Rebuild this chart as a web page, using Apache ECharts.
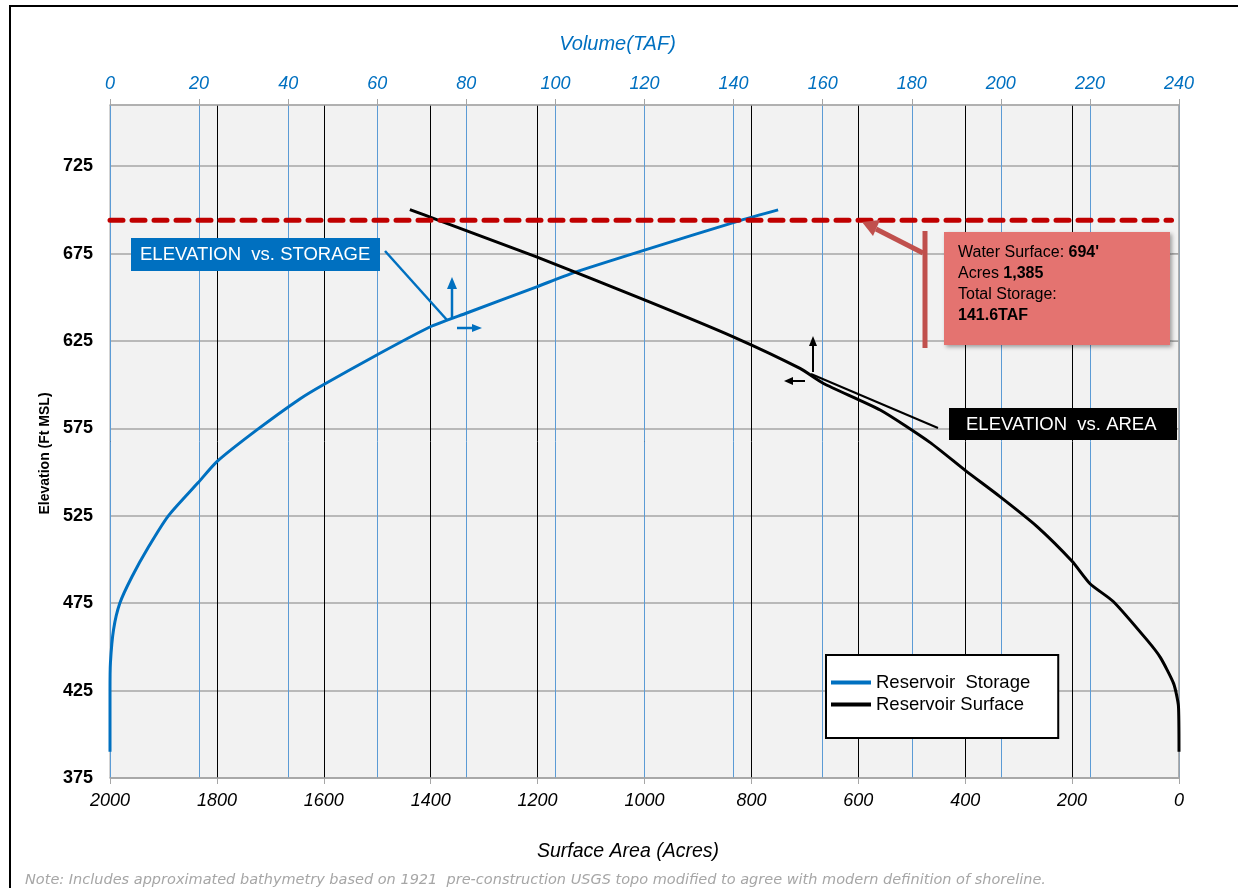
<!DOCTYPE html>
<html>
<head>
<meta charset="utf-8">
<script src="https://cdn.jsdelivr.net/npm/echarts@6/dist/echarts.min.js"></script>
<style>
  html, body { margin: 0; padding: 0; background: #fff; }
  #chart { width: 1238px; height: 888px; }
</style>
</head>
<body>
<div id="chart"></div>
<script>
// elevation vs storage: [volume TAF, elevation ft]
var storageData = [
    [0, 390], [0, 425], [0.1, 441], [0.8, 460], [2.2, 475], [4.9, 490], [8.6, 507],
    [13.1, 525], [19.8, 544], [24, 556], [32.9, 574], [42.7, 592], [47.9, 600],
    [59.9, 617], [71.8, 633], [80.1, 641], [95.8, 656], [104, 664], [120, 677],
    [141.6, 694], [150, 700]
];
// elevation vs surface area: [acres, elevation ft]
var surfaceData = [
    [0, 390], [1, 416], [10, 429], [35, 444], [60, 454], [123, 476], [166, 486],
    [200, 499], [266, 519], [335, 536], [400, 551], [466, 567], [559, 585.5],
    [665, 600.7], [709, 609.3], [834, 627.4], [999, 648.4], [1202, 673.1],
    [1385, 694], [1439, 700.2]
];
var waterSurface = 694;
var elevLabels = [375, 425, 475, 525, 575, 625, 675, 725];

var font = 'Liberation Sans, Arial, sans-serif';
var blue = '#0070c0';

var myChart = echarts.init(document.getElementById('chart'));

var option = {
    backgroundColor: '#fff',
    animation: false,
    grid: {
        left: 110, right: 59, top: 105, bottom: 110,
        show: true, backgroundColor: '#f2f2f2', borderColor: '#a6a6a6', borderWidth: 1
    },
    legend: {
        left: 826, top: 655, orient: 'vertical',
        padding: [18, 28, 24, 5], itemGap: 3,
        itemWidth: 40, itemHeight: 4, icon: 'rect',
        backgroundColor: '#fff', borderColor: '#000', borderWidth: 2, borderRadius: 0,
        textStyle: { fontFamily: font, fontSize: 18.5, color: '#000' },
        data: ['Reservoir  Storage', 'Reservoir Surface']
    },
    xAxis: [
        {
            type: 'value', position: 'bottom', inverse: true,
            min: 0, max: 2000, interval: 200,
            name: 'Surface Area (Acres)', nameLocation: 'middle', nameGap: 64,
            nameTextStyle: { fontFamily: font, fontSize: 19.5, fontStyle: 'italic', color: '#000', padding: [0, 33, 0, 0] },
            axisLine: { show: true, lineStyle: { color: '#a6a6a6', width: 1.5 } },
            axisTick: { show: true, length: 6, lineStyle: { color: '#a6a6a6' } },
            axisLabel: { fontFamily: font, fontSize: 18, fontStyle: 'italic', color: '#000', margin: 14,
                formatter: function (v) { return String(v); } },
            splitLine: { show: true, lineStyle: { color: '#000', width: 1 } }
        },
        {
            type: 'value', position: 'top',
            min: 0, max: 240, interval: 20,
            name: 'Volume(TAF)', nameLocation: 'middle', nameGap: 51,
            nameTextStyle: { fontFamily: font, fontSize: 20, fontStyle: 'italic', color: blue, padding: [0, 54, 0, 0] },
            axisLine: { show: true, lineStyle: { color: '#a6a6a6', width: 1.5 } },
            axisTick: { show: true, length: 6, lineStyle: { color: '#a6a6a6' } },
            axisLabel: { fontFamily: font, fontSize: 18, fontStyle: 'italic', color: blue, margin: 12 },
            splitLine: { show: true, lineStyle: { color: '#5b9bd5', width: 1 } }
        }
    ],
    yAxis: {
        type: 'value', min: 375, max: 760,
        name: 'Elevation (Ft MSL)', nameLocation: 'middle', nameGap: 58,
        nameTextStyle: { fontFamily: font, fontSize: 14, fontWeight: 'bold', color: '#000', padding: [0, 24, 0, 0] },
        axisLine: { show: true, lineStyle: { color: '#a6a6a6', width: 1.5 } },
        axisTick: { show: true, length: 7, customValues: elevLabels, lineStyle: { color: '#a6a6a6' } },
        axisLabel: { fontFamily: font, fontSize: 18, fontWeight: 'bold', color: '#000', margin: 17, customValues: elevLabels },
        splitLine: { show: true, lineStyle: { color: '#a6a6a6', width: 1.5 } }
    },
    series: [
        {
            name: 'Reservoir  Storage', type: 'line', xAxisIndex: 1,
            data: storageData, smooth: 0.2, showSymbol: false, symbol: 'none',
            lineStyle: { color: blue, width: 3 }, itemStyle: { color: blue }, z: 3
        },
        {
            name: 'Reservoir Surface', type: 'line', xAxisIndex: 0,
            data: surfaceData, smooth: 0.2, showSymbol: false, symbol: 'none',
            lineStyle: { color: '#000', width: 3 }, itemStyle: { color: '#000' }, z: 3
        },
        {
            name: 'Water Surface', type: 'line', xAxisIndex: 0,
            data: [[2000, waterSurface], [14, waterSurface]], showSymbol: false, symbol: 'none',
            lineStyle: { color: '#c00000', width: 5, type: [13, 9], cap: 'round' }, z: 4
        }
    ],
    graphic: [
        // outer frame
        { type: 'rect', shape: { x: 10, y: 6, width: 1240, height: 900 }, style: { fill: 'none', stroke: '#000', lineWidth: 2 }, z: 100 },
        // ELEVATION vs. STORAGE callout
        { type: 'line', shape: { x1: 385, y1: 251, x2: 447, y2: 320 }, style: { stroke: blue, lineWidth: 2.5 }, z: 50 },
        { type: 'line', shape: { x1: 452, y1: 318, x2: 452, y2: 286 }, style: { stroke: blue, lineWidth: 2.5 }, z: 50 },
        { type: 'polygon', shape: { points: [[447, 289], [457, 289], [452, 277]] }, style: { fill: blue }, z: 50 },
        { type: 'line', shape: { x1: 457, y1: 328, x2: 474, y2: 328 }, style: { stroke: blue, lineWidth: 2.5 }, z: 50 },
        { type: 'polygon', shape: { points: [[472, 324], [482, 328], [472, 332]] }, style: { fill: blue }, z: 50 },
        { type: 'rect', shape: { x: 131, y: 238, width: 249, height: 33 }, style: { fill: blue }, z: 50 },
        { type: 'text', x: 140, y: 255, style: { text: 'ELEVATION  vs. STORAGE', fill: '#fff', font: '18.5px ' + font, textVerticalAlign: 'middle' }, z: 51 },
        // ELEVATION vs. AREA callout
        { type: 'line', shape: { x1: 938, y1: 428, x2: 811, y2: 374 }, style: { stroke: '#000', lineWidth: 2 }, z: 50 },
        { type: 'line', shape: { x1: 813, y1: 372, x2: 813, y2: 344 }, style: { stroke: '#000', lineWidth: 2 }, z: 50 },
        { type: 'polygon', shape: { points: [[809, 346], [817, 346], [813, 336]] }, style: { fill: '#000' }, z: 50 },
        { type: 'line', shape: { x1: 805, y1: 381, x2: 791, y2: 381 }, style: { stroke: '#000', lineWidth: 2 }, z: 50 },
        { type: 'polygon', shape: { points: [[793, 377], [784, 381], [793, 385]] }, style: { fill: '#000' }, z: 50 },
        { type: 'rect', shape: { x: 949, y: 408, width: 228, height: 32 }, style: { fill: '#000' }, z: 50 },
        { type: 'text', x: 966, y: 425, style: { text: 'ELEVATION  vs. AREA', fill: '#fff', font: '18.5px ' + font, textVerticalAlign: 'middle' }, z: 51 },
        // water surface annotation
        { type: 'line', shape: { x1: 925, y1: 231, x2: 925, y2: 348 }, style: { stroke: '#c0504d', lineWidth: 5 }, z: 50 },
        { type: 'line', shape: { x1: 923, y1: 253, x2: 876, y2: 229 }, style: { stroke: '#c0504d', lineWidth: 5 }, z: 50 },
        { type: 'polygon', shape: { points: [[880, 220], [862, 222], [873, 236]] }, style: { fill: '#c0504d' }, z: 50 },
        { type: 'rect', shape: { x: 944, y: 232, width: 226, height: 113 }, style: { fill: '#e47370', shadowBlur: 4, shadowColor: 'rgba(0,0,0,0.35)', shadowOffsetX: 2, shadowOffsetY: 2 }, z: 50 },
        {
            type: 'text', x: 958, y: 242, z: 51,
            style: {
                text: '{n|Water Surface: }{b|694\'}\n{n|Acres }{b|1,385}\n{n|Total Storage:}\n{b|141.6TAF}',
                rich: {
                    n: { fontFamily: font, fontSize: 16, lineHeight: 21, fill: '#000' },
                    b: { fontFamily: font, fontSize: 16, lineHeight: 21, fontWeight: 'bold', fill: '#000' }
                }
            }
        },
        // footnote
        {
            type: 'text', x: 25, y: 880, z: 60,
            style: {
                text: 'Note: Includes approximated bathymetry based on 1921  pre-construction USGS topo modified to agree with modern definition of shoreline.',
                fill: '#a6a6a6', font: 'italic 14.5px DejaVu Sans, sans-serif', textVerticalAlign: 'middle'
            }
        }
    ]
};

myChart.setOption(option);
</script>
</body>
</html>
